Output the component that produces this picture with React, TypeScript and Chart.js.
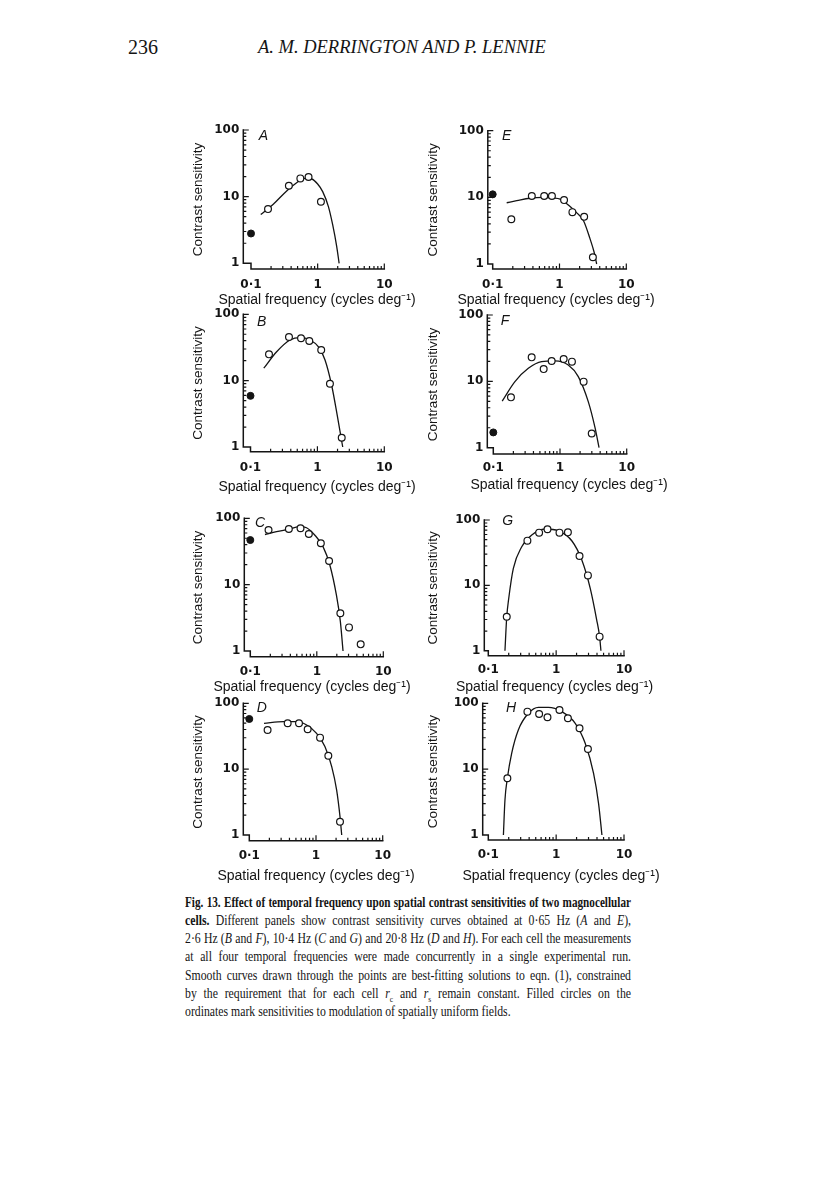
import React, { useEffect, useRef } from "react";
import { Chart, registerables } from "chart.js";
Chart.register(...registerables);

// ---------- tick / axis text ----------
const X_TICKS = [0.1, 1, 10];
const X_TICK_LABELS = ["0·1", "1", "10"];
const Y_TICKS = [1, 10, 100];
const Y_TICK_LABELS = ["1", "10", "100"];
const X_MINOR = [0.2, 0.3, 0.4, 0.5, 0.6, 0.7, 0.8, 0.9, 2, 3, 4, 5, 6, 7, 8, 9];
const X_MAJOR = [1, 10];
const Y_MINOR = [2, 3, 4, 5, 6, 7, 8, 9, 20, 30, 40, 50, 60, 70, 80, 90];
const Y_MAJOR = [10, 100];
const X_TITLE = "Spatial frequency (cycles deg⁻¹)";
const Y_TITLE = "Contrast sensitivity";

// ---------- Panel A (0.65 Hz, cell 1) ----------
const A_freq = [0.18, 0.37, 0.55, 0.73, 1.12];
const A_sens = [6.5, 14.6, 18.8, 19.7, 8.4];
const A_uniform = [2.8];
const A_fitFreq = [0.14, 0.216, 0.343, 0.484, 0.646, 0.813, 1.0, 1.19, 1.45, 1.68, 1.93, 2.1];
const A_fitSens = [5.4, 7.7, 12.2, 16.2, 18.8, 18.4, 15.5, 11.9, 7.1, 3.8, 1.8, 1.0];

// ---------- Panel B (2.6 Hz, cell 1) ----------
const B_freq = [0.189, 0.376, 0.569, 0.757, 1.14, 1.54, 2.31];
const B_sens = [24.9, 45.5, 43.5, 39.6, 29, 9.0, 1.38];
const B_uniform = [5.9];
const B_fitFreq = [0.158, 0.246, 0.39, 0.55, 0.775, 1.03, 1.3, 1.63, 1.98, 2.39];
const B_fitSens = [15.4, 27.3, 41, 44.5, 41, 32.5, 20.5, 8.6, 3.0, 1.0];

// ---------- Panel C (10.4 Hz, cell 1) ----------
const C_freq = [0.188, 0.38, 0.569, 0.759, 1.15, 1.53, 2.26, 3.05, 4.57];
const C_sens = [66.7, 69, 70.7, 58, 42, 22.7, 3.7, 2.27, 1.26];
const C_uniform = [47];
const C_fitFreq = [0.166, 0.248, 0.394, 0.556, 0.7, 0.93, 1.24, 1.57, 1.97, 2.26, 2.48];
const C_fitSens = [57, 63, 69, 75, 72, 56, 37.4, 19.8, 7.0, 2.8, 1.0];

// ---------- Panel D (20.8 Hz, cell 1) ----------
const D_freq = [0.188, 0.376, 0.556, 0.75, 1.15, 1.53, 2.29];
const D_sens = [39.4, 49.7, 49.7, 40.3, 30.1, 16.0, 1.59];
const D_uniform = [57.8];
const D_fitFreq = [0.166, 0.324, 0.513, 0.724, 1.02, 1.36, 1.72, 2.04, 2.29, 2.43];
const D_fitSens = [49.7, 52.7, 52.7, 46.9, 35, 22, 10.9, 4.8, 1.9, 1.0];

// ---------- Panel E (0.65 Hz, cell 2) ----------
const E_freq = [0.19, 0.385, 0.59, 0.77, 1.17, 1.56, 2.34, 3.16];
const E_sens = [4.7, 10.5, 10.5, 10.5, 9.1, 6.0, 5.1, 1.26];
const E_uniform = [11.1];
const E_fitFreq = [0.162, 0.229, 0.36, 0.57, 0.8, 1.02, 1.44, 1.8, 2.28, 2.86, 3.3, 3.6];
const E_fitSens = [8.3, 8.9, 9.7, 10.0, 9.8, 9.4, 7.3, 5.9, 4.5, 2.4, 1.5, 1.0];

// ---------- Panel F (2.6 Hz, cell 2) ----------
const F_freq = [0.184, 0.376, 0.569, 0.75, 1.135, 1.51, 2.26, 2.99];
const F_sens = [5.74, 23.0, 15.3, 20.3, 21.7, 19.8, 9.9, 1.64];
const F_uniform = [1.7];
const F_fitFreq = [0.136, 0.211, 0.335, 0.531, 0.84, 1.33, 1.88, 2.66, 3.35, 3.85];
const F_fitSens = [5.05, 9.9, 15.7, 19.8, 20.3, 17.6, 11.8, 4.9, 2.0, 1.0];

// ---------- Panel G (10.4 Hz, cell 2) ----------
const G_freq = [0.187, 0.377, 0.561, 0.745, 1.12, 1.49, 2.21, 2.94, 4.37];
const G_sens = [3.31, 48.3, 64, 72, 64, 64.7, 28.1, 14.2, 1.64];
const G_uniform: number[] = [];
const G_fitFreq = [0.176, 0.187, 0.2, 0.234, 0.311, 0.437, 0.687, 1.08, 1.71, 2.39, 3.18, 3.95, 4.37, 4.57];
const G_fitSens = [1.0, 3.3, 6.3, 18.2, 39, 59, 72.8, 68, 47.7, 24.4, 9.0, 3.0, 1.64, 1.0];

// ---------- Panel H (20.8 Hz, cell 2) ----------
const H_freq = [0.191, 0.377, 0.561, 0.745, 1.12, 1.49, 2.21, 2.94];
const H_sens = [7.26, 74.7, 68.9, 61.3, 79.2, 59.2, 41.7, 20.2];
const H_uniform: number[] = [];
const H_fitFreq = [0.167, 0.176, 0.191, 0.221, 0.277, 0.39, 0.548, 0.77, 1.21, 1.91, 2.68, 3.56, 4.22, 4.73];
const H_fitSens = [1.0, 3.4, 7.3, 17.4, 39.4, 70.5, 87, 87, 74.7, 49.7, 24.7, 8.6, 3.0, 1.0];

// ---------- text ----------
const PAGE_NUMBER = "236";
const RUNNING_HEAD = "A. M. DERRINGTON AND P. LENNIE";

const INK = "#141414";
const SANS = "'Liberation Sans', Arial, sans-serif";
const TICK_FONT = { family: "'DejaVu Sans', sans-serif", size: 12, weight: "bold" as const };
const Y_TITLE_FONT = { family: SANS, size: 13.5, weight: "normal" as const };
const X_TITLE_CSS = "14px 'Liberation Sans', Arial, sans-serif";

type Geo = {
  yAxisX: number; x01: number; x10: number;
  y100: number; y1: number; xAxisY: number;
  yTitleX: number; tickDY: number; titleDY: number; xTitleCX: number;
  letterX: number; letterY: number;
};
type PanelSpec = {
  letter: string; geo: Geo;
  freq: number[]; sens: number[]; uniform: number[];
  fitFreq: number[]; fitSens: number[];
};

const PANELS: PanelSpec[] = [
  { letter: "A", freq: A_freq, sens: A_sens, uniform: A_uniform, fitFreq: A_fitFreq, fitSens: A_fitSens,
    geo: { yAxisX: 243.3, x01: 251, x10: 384.3, y100: 130, y1: 263.3, xAxisY: 269, yTitleX: 198.3, tickDY: 16, titleDY: 31, xTitleCX: 317, letterX: 263.3, letterY: 135 } },
  { letter: "E", freq: E_freq, sens: E_sens, uniform: E_uniform, fitFreq: E_fitFreq, fitSens: E_fitSens,
    geo: { yAxisX: 487.8, x01: 492.7, x10: 626.3, y100: 130.7, y1: 264, xAxisY: 269, yTitleX: 433.3, tickDY: 16, titleDY: 31, xTitleCX: 556, letterX: 506.7, letterY: 135 } },
  { letter: "B", freq: B_freq, sens: B_sens, uniform: B_uniform, fitFreq: B_fitFreq, fitSens: B_fitSens,
    geo: { yAxisX: 243.3, x01: 250.5, x10: 384.3, y100: 314.3, y1: 447, xAxisY: 451.7, yTitleX: 198.3, tickDY: 16.6, titleDY: 35, xTitleCX: 317, letterX: 261.7, letterY: 321 } },
  { letter: "F", freq: F_freq, sens: F_sens, uniform: F_uniform, fitFreq: F_fitFreq, fitSens: F_fitSens,
    geo: { yAxisX: 487.3, x01: 493.3, x10: 626.7, y100: 315, y1: 447.7, xAxisY: 454, yTitleX: 433.3, tickDY: 14.3, titleDY: 31, xTitleCX: 569, letterX: 505, letterY: 320 } },
  { letter: "C", freq: C_freq, sens: C_sens, uniform: C_uniform, fitFreq: C_fitFreq, fitSens: C_fitSens,
    geo: { yAxisX: 244.3, x01: 250.3, x10: 383.3, y100: 518.3, y1: 651, xAxisY: 656.7, yTitleX: 198.3, tickDY: 15, titleDY: 30, xTitleCX: 312, letterX: 260, letterY: 522.3 } },
  { letter: "G", freq: G_freq, sens: G_sens, uniform: G_uniform, fitFreq: G_fitFreq, fitSens: G_fitSens,
    geo: { yAxisX: 484.3, x01: 488.3, x10: 624, y100: 520, y1: 650.7, xAxisY: 655.7, yTitleX: 433.3, tickDY: 14.3, titleDY: 31, xTitleCX: 554.5, letterX: 507.7, letterY: 520 } },
  { letter: "D", freq: D_freq, sens: D_sens, uniform: D_uniform, fitFreq: D_fitFreq, fitSens: D_fitSens,
    geo: { yAxisX: 243.3, x01: 249.3, x10: 382.7, y100: 703.3, y1: 835, xAxisY: 840.7, yTitleX: 198.3, tickDY: 15, titleDY: 35, xTitleCX: 316, letterX: 261.7, letterY: 706.7 } },
  { letter: "H", freq: H_freq, sens: H_sens, uniform: H_uniform, fitFreq: H_fitFreq, fitSens: H_fitSens,
    geo: { yAxisX: 482.7, x01: 488.3, x10: 624, y100: 703.3, y1: 835, xAxisY: 840, yTitleX: 433.3, tickDY: 15, titleDY: 36, xTitleCX: 561, letterX: 511, letterY: 706.7 } },
];

function Panel({ p }: { p: PanelSpec }) {
  const ref = useRef<HTMLCanvasElement>(null);
  const g = p.geo;
  const L = Math.round(g.yTitleX - 12);
  const T = Math.round(g.y100 - 14);
  const W = Math.ceil(g.x10 + 56 - L);
  const titleLH = 14 * 1.2;
  const xScaleH = g.titleDY + titleLH / 2 + 2;
  const H = Math.ceil(g.xAxisY + xScaleH - T) + 2;
  const padRight = L + W - g.x10;
  const padTop = g.y100 - T;
  const padBottom = T + H - (g.xAxisY + xScaleH);
  const yScaleW = g.yAxisX - L;
  const yTitleLH = Y_TITLE_FONT.size * 1.2;
  const titlePadTop = g.yTitleX - L - yTitleLH / 2;

  useEffect(() => {
    if (!ref.current) return;
    const dx = (g.x10 - g.x01) / 2;
    const dy = (g.y1 - g.y100) / 2;
    const xMin = 0.1 * Math.pow(10, -(g.x01 - g.yAxisX) / dx);
    const yMin = Math.pow(10, -(g.xAxisY - g.y1) / dy);

    // Broken (stepped) axes, inward tick marks and the x-axis title, all placed from the scales.
    const paperAxes = {
      id: "paperAxes",
      beforeDatasetsDraw(chart: any) {
        const { ctx, chartArea } = chart;
        const xs = chart.scales.x;
        const ys = chart.scales.y;
        const left = chartArea.left;
        const bottom = chartArea.bottom;
        const xp = (v: number) => xs.getPixelForValue(v);
        const yp = (v: number) => ys.getPixelForValue(v);
        ctx.save();
        ctx.strokeStyle = INK;
        ctx.lineWidth = 1.5;
        ctx.lineJoin = "miter";
        ctx.lineCap = "square";
        ctx.beginPath();
        ctx.moveTo(left, yp(100));
        ctx.lineTo(left, yp(1));
        ctx.lineTo(xp(0.1), yp(1));
        ctx.lineTo(xp(0.1), bottom);
        ctx.lineTo(xp(10), bottom);
        ctx.stroke();
        ctx.lineWidth = 1.2;
        ctx.lineCap = "butt";
        ctx.beginPath();
        Y_MINOR.forEach((v) => { ctx.moveTo(left, yp(v)); ctx.lineTo(left + 3, yp(v)); });
        Y_MAJOR.forEach((v) => { ctx.moveTo(left, yp(v)); ctx.lineTo(left + 5.5, yp(v)); });
        X_MINOR.forEach((v) => { ctx.moveTo(xp(v), bottom); ctx.lineTo(xp(v), bottom - 3); });
        X_MAJOR.forEach((v) => { ctx.moveTo(xp(v), bottom); ctx.lineTo(xp(v), bottom - 5.5); });
        ctx.stroke();
        ctx.fillStyle = INK;
        ctx.font = X_TITLE_CSS;
        ctx.textAlign = "center";
        ctx.textBaseline = "middle";
        ctx.fillText(X_TITLE, g.xTitleCX - L, bottom + g.titleDY);
        ctx.restore();
      },
    };

    const chart = new Chart(ref.current, {
      type: "scatter",
      data: {
        datasets: [
          {
            data: p.fitFreq.map((x, i) => ({ x, y: p.fitSens[i] })),
            showLine: true,
            borderColor: INK,
            borderWidth: 1.3,
            pointRadius: 0,
            cubicInterpolationMode: "monotone",
            fill: false,
            order: 3,
          } as any,
          {
            data: p.freq.map((x, i) => ({ x, y: p.sens[i] })),
            showLine: false,
            pointRadius: 3.4,
            pointBorderWidth: 1.2,
            pointBackgroundColor: "#ffffff",
            pointBorderColor: INK,
            clip: false,
            order: 2,
          } as any,
          {
            data: p.uniform.map((y) => ({ x: 0.1, y })),
            showLine: false,
            pointRadius: 3.5,
            pointBorderWidth: 1,
            pointBackgroundColor: INK,
            pointBorderColor: INK,
            clip: false,
            order: 1,
          } as any,
        ],
      },
      options: {
        responsive: false,
        animation: false,
        devicePixelRatio: 1,
        events: [],
        layout: { padding: { left: 0, top: padTop, right: padRight, bottom: padBottom } },
        plugins: { legend: { display: false }, tooltip: { enabled: false }, title: { display: false } },
        scales: {
          x: {
            type: "logarithmic",
            position: "bottom",
            min: xMin,
            max: 10,
            bounds: "data",
            grid: { display: false, drawTicks: false },
            border: { display: false },
            afterBuildTicks: (s: any) => { s.ticks = X_TICKS.map((v) => ({ value: v })); },
            afterFit: (s: any) => { s.height = xScaleH; },
            ticks: {
              autoSkip: false, maxRotation: 0, minRotation: 0,
              padding: g.tickDY - TICK_FONT.size * 0.6,
              font: TICK_FONT, color: INK,
              callback: (_v: any, i: number) => X_TICK_LABELS[i],
            },
            title: { display: false },
          },
          y: {
            type: "logarithmic",
            position: "left",
            min: yMin,
            max: 100,
            bounds: "data",
            grid: { display: false, drawTicks: false },
            border: { display: false },
            afterBuildTicks: (s: any) => { s.ticks = Y_TICKS.map((v) => ({ value: v })); },
            afterFit: (s: any) => { s.width = yScaleW; },
            ticks: {
              autoSkip: false, padding: 4,
              font: TICK_FONT, color: INK,
              callback: (_v: any, i: number) => Y_TICK_LABELS[i],
            },
            title: { display: true, text: Y_TITLE, font: Y_TITLE_FONT, color: INK, padding: { top: titlePadTop, bottom: 0 } },
          },
        },
      } as any,
      plugins: [paperAxes],
    });
    return () => chart.destroy();
  }, []);

  return (
    <>
      <canvas
        ref={ref}
        width={W}
        height={H}
        style={{ position: "absolute", left: L, top: T, width: W, height: H }}
      />
      <div
        style={{
          position: "absolute", left: g.letterX, top: g.letterY, transform: "translate(-50%, -50%)",
          fontFamily: SANS, fontStyle: "italic", fontSize: 14, lineHeight: "16px", color: INK,
        }}
      >
        {p.letter}
      </div>
    </>
  );
}

const SERIF = "'Liberation Serif', 'Times New Roman', serif";
const CAPTION_LEFT = 185;
const CAPTION_WIDTH = 446;
const CAPTION_TOPS = [894, 912, 930, 948, 967, 985, 1003];

function CapLine({ i, last, scale, children }: { i: number; last?: boolean; scale: number; children: React.ReactNode }) {
  return (
    <div
      style={{
        position: "absolute", left: CAPTION_LEFT, top: CAPTION_TOPS[i],
        width: CAPTION_WIDTH / scale, transform: `scaleX(${scale})`, transformOrigin: "0 0",
        fontFamily: SERIF, fontSize: 14, lineHeight: "18px", color: INK, whiteSpace: "nowrap",
        textAlign: last ? "left" : "justify", textAlignLast: last ? "left" : "justify",
      } as any}
    >
      {children}
    </div>
  );
}

const CAP_SCALE = 0.84;
const CAP_BOLD_SCALE = 0.8;

export default function App() {
  return (
    <div style={{ position: "absolute", left: 0, top: 0, width: 816, height: 1203, background: "#fff" }}>
      <div style={{ position: "absolute", left: 128, top: 37, fontFamily: SERIF, fontSize: 20, lineHeight: "20px", color: INK }}>
        {PAGE_NUMBER}
      </div>
      <div style={{ position: "absolute", left: 258, top: 37, fontFamily: SERIF, fontStyle: "italic", fontSize: 18.5, lineHeight: "20px", color: INK }}>
        {RUNNING_HEAD}
      </div>
      {PANELS.map((p) => <Panel key={p.letter} p={p} />)}
      <CapLine i={0} scale={CAP_BOLD_SCALE}><b>Fig. 13. Effect of temporal frequency upon spatial contrast sensitivities of two magnocellular</b></CapLine>
      <CapLine i={1} scale={CAP_SCALE}><b>cells.</b> Different panels show contrast sensitivity curves obtained at 0·65 Hz (<i>A</i> and <i>E</i>),</CapLine>
      <CapLine i={2} scale={CAP_SCALE}>2·6 Hz (<i>B</i> and <i>F</i>), 10·4 Hz (<i>C</i> and <i>G</i>) and 20·8 Hz (<i>D</i> and <i>H</i>). For each cell the measurements</CapLine>
      <CapLine i={3} scale={CAP_SCALE}>at all four temporal frequencies were made concurrently in a single experimental run.</CapLine>
      <CapLine i={4} scale={CAP_SCALE}>Smooth curves drawn through the points are best-fitting solutions to eqn. (1), constrained</CapLine>
      <CapLine i={5} scale={CAP_SCALE}>by the requirement that for each cell <i>r</i><sub style={{ fontSize: 9 }}>c</sub> and <i>r</i><sub style={{ fontSize: 9 }}>s</sub> remain constant. Filled circles on the</CapLine>
      <CapLine i={6} last scale={CAP_SCALE}>ordinates mark sensitivities to modulation of spatially uniform fields.</CapLine>
    </div>
  );
}
